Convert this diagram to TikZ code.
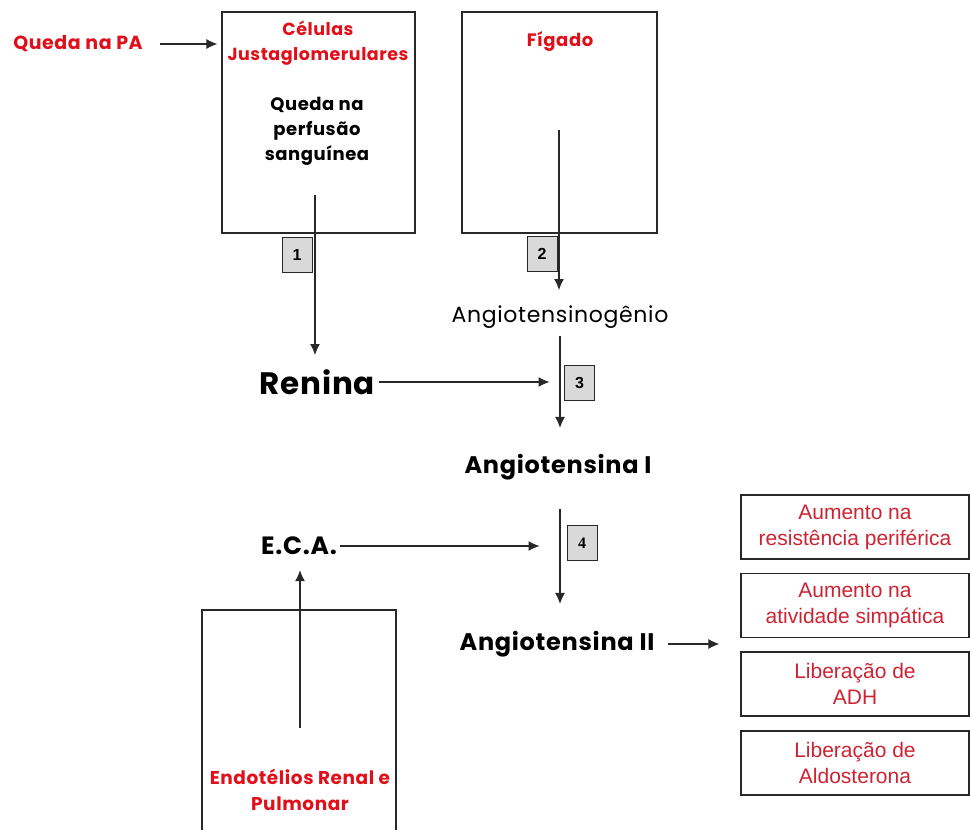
\documentclass[tikz,border=0pt]{standalone}
\usepackage{fontspec}
\setmainfont{Poppins}[LetterSpace=3]
\newfontfamily\arialfont{Liberation Sans}
\newfontfamily\timesfont{Liberation Serif}
\usetikzlibrary{arrows,arrows.meta}
\definecolor{redtxt}{RGB}{225,15,25}
\definecolor{boxred}{RGB}{205,35,50}
\definecolor{linegray}{RGB}{40,40,40}

\begin{document}
\begin{tikzpicture}[x=1pt,y=-1pt,
    flow/.style={-{Latex[length=11pt,width=10pt]},line width=1.1pt,draw=linegray},
    organ/.style={draw=linegray,line width=1.3pt,minimum width=#1,minimum height=221pt,inner sep=0pt},
    stepnum/.style={draw=linegray,line width=1pt,fill=gray!30,minimum width=30pt,minimum height=35pt,inner sep=0pt,font=\arialfont\bfseries\fontsize{16}{16}\selectfont},
    effect/.style={draw=linegray,line width=1.3pt,minimum width=228pt,minimum height=64pt,inner sep=0pt,align=center,text=boxred,font=\arialfont\fontsize{21}{26}\selectfont},
    redlbl/.style={inner sep=0pt,text=redtxt,align=center,font=\bfseries\fontsize{17.5}{25}\selectfont},
    blacklbl/.style={inner sep=0pt,align=center,font=\bfseries\fontsize{18}{25}\selectfont},
    molecule/.style={inner sep=0pt,font=\bfseries\fontsize{24}{28}\selectfont}]
  \useasboundingbox (0,0) rectangle (970,830);
  \clip (0,0) rectangle (970,830);

  % boxes
  \node[organ=193pt] (cel) at (318.5,122.5) {};
  \node[organ=195pt] (fig) at (559.5,122.5) {};
  \node[organ=194pt,minimum height=250pt] (endo) at (299,735) {};

  % texts
  \node[redlbl,font=\bfseries\fontsize{19}{25}\selectfont] (qpa) at (78,44) {Queda na PA};
  \node[redlbl] (celtxt) at (318,43) {Células\\Justaglomerulares};
  \node[blacklbl] (perf) at (317,131) {Queda na\\perfusão\\sanguínea};
  \node[redlbl,font=\bfseries\fontsize{18}{25}\selectfont] (figtxt) at (560,42) {Fígado};
  \node[redlbl,font=\bfseries\fontsize{18.5}{26}\selectfont] (endotxt) at (300,790) {Endotélios Renal e\\Pulmonar};
  \node[inner sep=0pt,font=\fontsize{22}{26}\selectfont] (ang0) at (560,317) {Angiotensinogênio};
  \node[molecule,font=\bfseries\fontsize{31}{36}\selectfont] (ren) at (317,382) {Renina};
  \node[molecule] (ang1) at (558,467) {Angiotensina I};
  \node[molecule,font=\bfseries\fontsize{25}{28}\selectfont] (eca) at (299,546) {E.C.A.};
  \node[molecule] (ang2) at (557,644) {Angiotensina II};

  % step numbers
  \node[stepnum] (s1) at (297,254.5) {1};
  \node[stepnum] (s2) at (542,254) {2};
  \node[stepnum] (s3) at (579.5,382.5) {3};
  \node[stepnum,font=\timesfont\bfseries\fontsize{16}{16}\selectfont] (s4) at (582,543) {4};

  % effects
  \node[effect] (e1) at (855,527) {Aumento na\\resistência periférica};
  \node[effect] (e2) at (855,605.5) {Aumento na\\atividade simpática};
  \node[effect] (e3) at (855,684) {Liberação de\\ADH};
  \node[effect] (e4) at (855,763) {Liberação de\\Aldosterona};

  % arrows
  \coordinate (c1) at (315,195);
  \coordinate (c2) at (559,130);
  \coordinate (c4) at (300,728);
  \draw[flow,shorten <=17pt,shorten >=4pt] (qpa.east) -- (qpa.east -| cel.west);
  \draw[flow] (c1) -- (c1 |- 0,355);
  \draw[flow] (c2) -- (c2 |- 0,290);
  \draw[flow,shorten <=7pt,shorten >=26pt] (ang0.south) -- (ang0.south |- ang1.north);
  \draw[flow,shorten <=4pt,shorten >=14.5pt] (ren.east) -- (ren.east -| s3.west);
  \draw[flow,shorten <=29pt,shorten >=27pt] (ang1.south -| ang0.south) -- (ang2.north -| ang0.south);
  \draw[flow,shorten <=3pt,shorten >=27pt] (eca.east) -- (eca.east -| s4.west);
  \draw[flow,shorten <=13pt,shorten >=21pt] (ang2.east) -- (ang2.east -| e2.west);
  \draw[flow,shorten >=15pt] (c4) -- (eca.south -| c4);
\end{tikzpicture}
\end{document}
